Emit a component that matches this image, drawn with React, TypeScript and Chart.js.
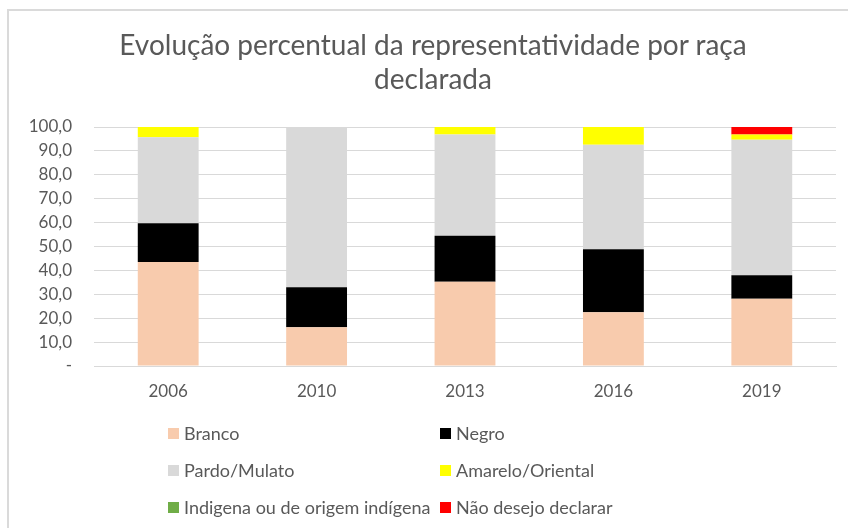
import React, { useEffect, useRef } from "react";
import { Chart, registerables } from "chart.js";

Chart.register(...registerables);

const years = ["2006", "2010", "2013", "2016", "2019"];
const branco = [43.5, 16.2, 35.2, 22.5, 28.1];
const negro = [16.2, 16.8, 19.3, 26.3, 9.9];
const pardo = [36.0, 67.0, 42.4, 43.8, 56.7];
const amarelo = [4.3, 0, 3.1, 7.4, 2.2];
const indigena = [0, 0, 0, 0, 0];
const naoDeclarar = [0, 0, 0, 0, 3.1];

const seriesNames = [
  "Branco",
  "Negro",
  "Pardo/Mulato",
  "Amarelo/Oriental",
  "Indigena ou de origem indígena",
  "Não desejo declarar",
];
const seriesColors = ["#f8cbad", "#000000", "#d9d9d9", "#ffff00", "#70ad47", "#ff0000"];
const seriesValues = [branco, negro, pardo, amarelo, indigena, naoDeclarar];

const titleLines = ["Evolução percentual da representatividade por raça", "declarada"];

const FONT = "Lato, 'Open Sans', sans-serif";
const TEXT = "#595959";

export default function App() {
  const ref = useRef<HTMLCanvasElement | null>(null);

  useEffect(() => {
    if (!ref.current) return;
    const chart = new Chart(ref.current, {
      type: "bar",
      data: {
        labels: years,
        datasets: seriesNames.map((name, i) => ({
          label: name,
          data: seriesValues[i],
          backgroundColor: seriesColors[i],
          borderWidth: 0,
          barPercentage: 0.41,
          categoryPercentage: 1,
        })),
      },
      options: {
        animation: false,
        responsive: false,
        devicePixelRatio: 1,
        layout: { padding: { top: 127, left: 0, right: 12, bottom: 122 } },
        plugins: {
          legend: { display: false },
          title: { display: false },
          tooltip: { enabled: false },
        },
        scales: {
          x: {
            stacked: true,
            grid: { display: false, drawTicks: false },
            border: { display: true, color: "#d9d9d9", width: 1 },
            ticks: { color: TEXT, font: { family: FONT, size: 17 }, padding: 15 },
            afterFit: (s: any) => {
              s.height = 40;
            },
          },
          y: {
            stacked: true,
            min: 0,
            max: 100,
            grid: { color: "#d9d9d9", lineWidth: 1, drawTicks: false },
            border: { display: false },
            ticks: {
              stepSize: 10,
              color: TEXT,
              font: { family: FONT, size: 17 },
              padding: 22,
              callback: (v: any) => (Number(v) === 0 ? "-" : Number(v).toFixed(1).replace(".", ",")),
            },
            afterFit: (s: any) => {
              s.width = 94;
            },
          },
        },
      },
    });
    return () => chart.destroy();
  }, []);

  const legendPos = [
    [168, 433],
    [440, 433],
    [168, 470],
    [440, 470],
    [168, 507],
    [440, 507],
  ];

  return (
    <div style={{ position: "absolute", left: 0, top: 0, width: 848, height: 528, background: "#fff", overflow: "hidden" }}>
      <div
        style={{
          position: "absolute",
          left: 7,
          top: 9,
          width: 900,
          height: 600,
          borderLeft: "2px solid #dadada",
          borderTop: "2px solid #dadada",
        }}
      />
      <canvas ref={ref} width={848} height={528} style={{ position: "absolute", left: 0, top: 0, width: 848, height: 528 }} />
      {titleLines.map((t, i) => (
        <div
          key={i}
          style={{
            position: "absolute",
            left: 0,
            width: 866,
            top: 29 + i * 34,
            textAlign: "center",
            fontFamily: FONT,
            fontSize: 28,
            lineHeight: "30px",
            color: TEXT,
            whiteSpace: "nowrap",
          }}
        >
          {t}
        </div>
      ))}
      {seriesNames.map((name, i) => (
        <div
          key={name}
          style={{
            position: "absolute",
            left: legendPos[i][0],
            top: legendPos[i][1] - 11,
            height: 22,
            display: "flex",
            alignItems: "center",
            fontFamily: FONT,
            fontSize: 18,
            color: TEXT,
            whiteSpace: "nowrap",
          }}
        >
          <span style={{ display: "inline-block", width: 11, height: 11, background: seriesColors[i], marginRight: 5 }} />
          <span>{name}</span>
        </div>
      ))}
    </div>
  );
}
